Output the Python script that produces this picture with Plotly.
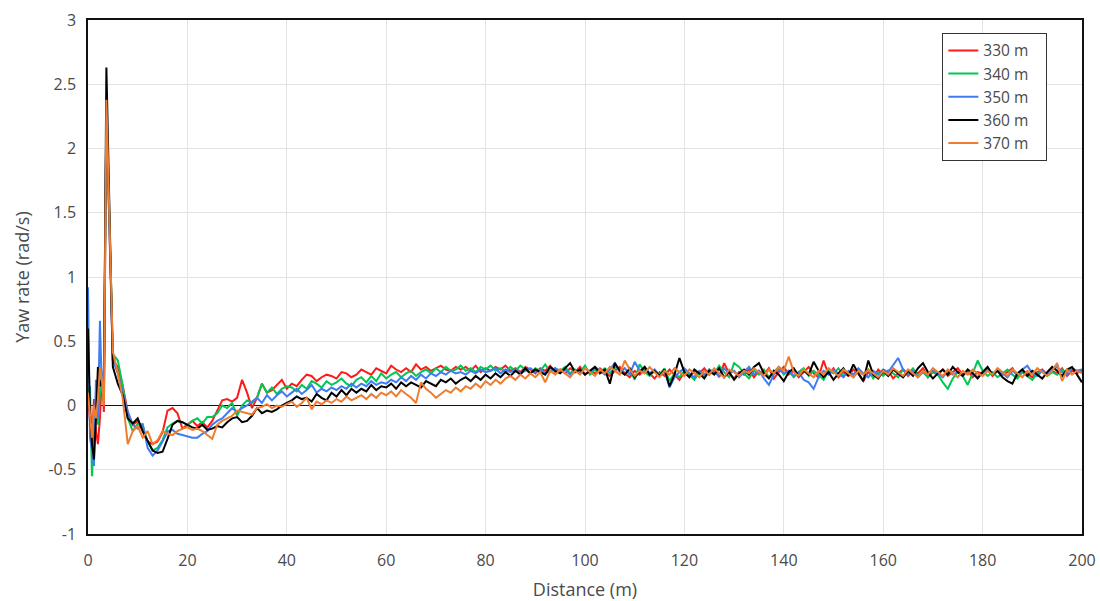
import plotly.graph_objects as go

# Sampling positions along the track (m): finer steps through the launch transient
distance = [0, 0.4, 0.8, 1.2, 1.6, 2.0, 2.4, 2.8, 3.2, 3.7] + list(range(5, 201))

series_names = ["330 m", "340 m", "350 m", "360 m", "370 m"]

yaw_330 = [
    0.05, -0.15, -0.30, 0.05, -0.20, -0.30, -0.10, 0.25, -0.05, 2.30,
    0.35, 0.30, 0.15, -0.05, -0.15, -0.12, -0.20, -0.28, -0.30, -0.28,
    -0.21, -0.04, -0.02, -0.06, -0.18, -0.15, -0.12, -0.16, -0.13, -0.17,
    -0.12, -0.04, 0.04, 0.05, 0.03, 0.06, 0.20, 0.10, -0.02, 0.06,
    0.17, 0.10, 0.12, 0.16, 0.20, 0.13, 0.17, 0.15, 0.20, 0.24,
    0.23, 0.19, 0.22, 0.24, 0.23, 0.21, 0.26, 0.25, 0.22, 0.24,
    0.28, 0.26, 0.24, 0.29, 0.27, 0.25, 0.31, 0.28, 0.26, 0.29,
    0.26, 0.32, 0.28, 0.30, 0.27, 0.29, 0.31, 0.28, 0.27, 0.30,
    0.28, 0.30, 0.27, 0.31, 0.26, 0.29, 0.27, 0.30, 0.28, 0.31,
    0.27, 0.29, 0.26, 0.30, 0.28, 0.25, 0.29, 0.27, 0.31, 0.26,
    0.28, 0.25, 0.29, 0.26, 0.30, 0.24, 0.27, 0.25, 0.29, 0.26,
    0.23, 0.27, 0.30, 0.25, 0.22, 0.27, 0.24, 0.28, 0.25, 0.21,
    0.26, 0.23, 0.28, 0.24, 0.20, 0.26, 0.22, 0.27, 0.25, 0.29,
    0.24, 0.28, 0.22, 0.33, 0.25, 0.21, 0.26, 0.24, 0.28, 0.22,
    0.27, 0.24, 0.29, 0.21, 0.26, 0.30, 0.24, 0.27, 0.22, 0.26,
    0.30, 0.25, 0.22, 0.35, 0.24, 0.29, 0.22, 0.26, 0.23, 0.28,
    0.25, 0.19, 0.26, 0.22, 0.28, 0.24, 0.27, 0.21, 0.25, 0.28,
    0.23, 0.27, 0.25, 0.29, 0.22, 0.26, 0.24, 0.28, 0.23, 0.26,
    0.29, 0.24, 0.27, 0.22, 0.26, 0.25, 0.28, 0.23, 0.27, 0.24,
    0.26, 0.29, 0.23, 0.27, 0.25, 0.22, 0.26, 0.28, 0.24, 0.27,
    0.25, 0.29, 0.23, 0.27, 0.25, 0.28,
]

yaw_340 = [
    0.10, 0.15, -0.55, -0.20, 0.05, -0.15, 0.10, 0.20, 0.05, 2.35,
    0.40, 0.35, 0.15, -0.10, -0.20, -0.14, -0.16, -0.28, -0.35, -0.33,
    -0.27, -0.17, -0.14, -0.12, -0.13, -0.15, -0.12, -0.10, -0.14, -0.09,
    -0.09, -0.06, 0.00, -0.02, 0.02, -0.08, 0.00, 0.04, 0.02, 0.06,
    0.17, 0.10, 0.14, 0.09, 0.13, 0.15, 0.14, 0.11, 0.16, 0.13,
    0.19, 0.17, 0.14, 0.19, 0.16, 0.18, 0.21, 0.17, 0.15, 0.20,
    0.22, 0.18, 0.23, 0.19, 0.25, 0.21, 0.24, 0.26, 0.22, 0.25,
    0.27, 0.23, 0.26, 0.28, 0.25, 0.29, 0.26, 0.30, 0.27, 0.28,
    0.31, 0.27, 0.29, 0.26, 0.30, 0.28, 0.31, 0.27, 0.29, 0.26,
    0.30, 0.27, 0.31, 0.28, 0.25, 0.29, 0.27, 0.32, 0.26, 0.29,
    0.27, 0.30, 0.25, 0.28, 0.26, 0.31, 0.24, 0.28, 0.26, 0.29,
    0.25, 0.30, 0.27, 0.24, 0.28, 0.20, 0.32, 0.26, 0.23, 0.27,
    0.24, 0.29, 0.19, 0.25, 0.22, 0.27, 0.24, 0.20, 0.26, 0.23,
    0.28, 0.25, 0.31, 0.26, 0.22, 0.33, 0.30, 0.25, 0.21, 0.27,
    0.24, 0.28, 0.22, 0.26, 0.30, 0.24, 0.27, 0.22, 0.26, 0.29,
    0.23, 0.27, 0.24, 0.20, 0.27, 0.25, 0.29, 0.23, 0.26, 0.22,
    0.27, 0.24, 0.28, 0.21, 0.26, 0.23, 0.27, 0.25, 0.22, 0.28,
    0.25, 0.29, 0.23, 0.26, 0.22, 0.27, 0.24, 0.18, 0.13, 0.21,
    0.26, 0.23, 0.16, 0.25, 0.35, 0.27, 0.23, 0.26, 0.22, 0.25,
    0.28, 0.24, 0.21, 0.26, 0.23, 0.20, 0.25, 0.27, 0.23, 0.26,
    0.24, 0.28, 0.25, 0.29, 0.27, 0.26,
]

yaw_350 = [
    0.92, -0.25, -0.35, -0.47, 0.20, -0.10, 0.66, 0.10, 0.30, 2.30,
    0.35, 0.25, 0.10, -0.05, -0.15, -0.18, -0.14, -0.33, -0.39, -0.35,
    -0.28, -0.20, -0.19, -0.22, -0.23, -0.24, -0.25, -0.25, -0.22, -0.20,
    -0.15, -0.12, -0.10, -0.06, -0.02, -0.05, -0.02, 0.00, 0.03, 0.06,
    0.02, 0.08, 0.04, 0.08, 0.11, 0.07, 0.10, 0.13, 0.09, 0.12,
    0.16, 0.10, 0.13, 0.11, 0.14, 0.12, 0.15, 0.13, 0.17, 0.14,
    0.17, 0.15, 0.19, 0.16, 0.18, 0.17, 0.20, 0.18, 0.22, 0.19,
    0.23, 0.20, 0.24, 0.21, 0.25, 0.23, 0.26, 0.24, 0.27, 0.25,
    0.26, 0.24, 0.27, 0.25, 0.28, 0.26, 0.27, 0.29, 0.25, 0.28,
    0.26, 0.28, 0.25, 0.27, 0.29, 0.26, 0.28, 0.25, 0.27, 0.29,
    0.26, 0.28, 0.24, 0.27, 0.25, 0.29, 0.26, 0.30, 0.27, 0.24,
    0.28, 0.33, 0.26, 0.29, 0.24, 0.34, 0.27, 0.30, 0.25, 0.28,
    0.23, 0.27, 0.14, 0.22, 0.26, 0.29, 0.25, 0.22, 0.27, 0.24,
    0.28, 0.26, 0.23, 0.29, 0.25, 0.27, 0.22, 0.26, 0.30, 0.24,
    0.27, 0.21, 0.16, 0.24, 0.28, 0.25, 0.27, 0.23, 0.26, 0.20,
    0.18, 0.13, 0.22, 0.27, 0.24, 0.28, 0.25, 0.22, 0.27, 0.24,
    0.29, 0.25, 0.22, 0.27, 0.24, 0.28, 0.26, 0.32, 0.37, 0.28,
    0.24, 0.27, 0.22, 0.26, 0.24, 0.28, 0.25, 0.22, 0.27, 0.24,
    0.26, 0.23, 0.27, 0.25, 0.22, 0.26, 0.28, 0.24, 0.27, 0.25,
    0.22, 0.27, 0.24, 0.28, 0.31, 0.25, 0.23, 0.27, 0.24, 0.28,
    0.30, 0.26, 0.24, 0.29, 0.27, 0.28,
]

yaw_360 = [
    0.60, -0.05, -0.30, -0.42, -0.10, 0.30, 0.15, 0.20, 0.10, 2.63,
    0.30, 0.17, 0.08, -0.10, -0.14, -0.10, -0.20, -0.28, -0.35, -0.37,
    -0.36, -0.26, -0.15, -0.12, -0.13, -0.15, -0.17, -0.18, -0.15, -0.19,
    -0.18, -0.16, -0.17, -0.13, -0.10, -0.09, -0.13, -0.12, -0.08, -0.02,
    -0.06, -0.04, -0.05, -0.03, 0.00, 0.02, 0.04, 0.07, 0.05, 0.06,
    0.03, 0.09, 0.06, 0.04, 0.10, 0.07, 0.12, 0.08, 0.13, 0.10,
    0.13, 0.11, 0.16, 0.12, 0.15, 0.14, 0.17, 0.13, 0.18, 0.15,
    0.18, 0.16, 0.14, 0.19, 0.17, 0.15, 0.20, 0.18, 0.21, 0.17,
    0.20, 0.22, 0.19, 0.23, 0.20, 0.24, 0.21, 0.25, 0.22, 0.26,
    0.23, 0.27, 0.24, 0.29, 0.25, 0.28, 0.26, 0.24, 0.30, 0.27,
    0.25, 0.29, 0.33, 0.26, 0.28, 0.24, 0.27, 0.30, 0.25, 0.28,
    0.17, 0.33, 0.27, 0.24, 0.29, 0.22, 0.26, 0.30, 0.24, 0.27,
    0.23, 0.28, 0.15, 0.24, 0.37, 0.26, 0.22, 0.28, 0.25, 0.21,
    0.27, 0.24, 0.29, 0.22, 0.26, 0.20, 0.25, 0.28, 0.24, 0.30,
    0.33, 0.25, 0.21, 0.27, 0.24, 0.19, 0.26, 0.29, 0.23, 0.27,
    0.24, 0.34, 0.27, 0.22, 0.26, 0.20, 0.25, 0.29, 0.23, 0.32,
    0.25, 0.19, 0.35, 0.24, 0.21, 0.27, 0.23, 0.28, 0.25, 0.22,
    0.27, 0.23, 0.29, 0.33, 0.26, 0.21, 0.25, 0.28, 0.24, 0.30,
    0.26, 0.23, 0.28, 0.25, 0.21, 0.26, 0.30, 0.24, 0.27, 0.22,
    0.19, 0.17, 0.25, 0.28, 0.23, 0.27, 0.24, 0.21, 0.26, 0.30,
    0.27, 0.23, 0.28, 0.30, 0.24, 0.18,
]

yaw_370 = [
    0.10, -0.05, -0.25, 0.00, -0.10, 0.05, 0.30, 0.20, 0.00, 2.38,
    0.42, 0.25, 0.05, -0.30, -0.20, -0.16, -0.25, -0.20, -0.30, -0.27,
    -0.20, -0.22, -0.23, -0.20, -0.18, -0.17, -0.19, -0.18, -0.20, -0.23,
    -0.26, -0.15, -0.12, -0.10, -0.08, -0.04, -0.05, -0.06, -0.07, -0.02,
    -0.01, 0.01, -0.02, 0.00, -0.01, 0.01, 0.03, -0.01, 0.02, 0.06,
    -0.03, 0.03, 0.01, 0.04, 0.02, 0.05, 0.03, 0.07, 0.04, 0.06,
    0.08, 0.05, 0.09, 0.06, 0.10, 0.08, 0.11, 0.07, 0.12, 0.09,
    0.06, 0.02, 0.18, 0.13, 0.10, 0.06, 0.09, 0.12, 0.10, 0.14,
    0.11, 0.15, 0.13, 0.17, 0.14, 0.19, 0.16, 0.20, 0.17, 0.21,
    0.23, 0.20, 0.24, 0.21, 0.25, 0.22, 0.26, 0.18, 0.27, 0.24,
    0.28, 0.25, 0.22, 0.27, 0.24, 0.29, 0.26, 0.23, 0.28, 0.25,
    0.30, 0.27, 0.24, 0.35, 0.28, 0.23, 0.27, 0.25, 0.30, 0.26,
    0.22, 0.27, 0.24, 0.29, 0.26, 0.23, 0.28, 0.25, 0.22, 0.27,
    0.24, 0.29, 0.25, 0.22, 0.28, 0.26, 0.23, 0.27, 0.25, 0.29,
    0.26, 0.23, 0.28, 0.25, 0.30, 0.27, 0.38, 0.26, 0.23, 0.28,
    0.25, 0.22, 0.27, 0.24, 0.29, 0.26, 0.23, 0.28, 0.25, 0.22,
    0.27, 0.24, 0.28, 0.25, 0.22, 0.27, 0.24, 0.29, 0.26, 0.23,
    0.28, 0.25, 0.22, 0.27, 0.24, 0.29, 0.26, 0.23, 0.28, 0.25,
    0.22, 0.27, 0.24, 0.28, 0.25, 0.23, 0.27, 0.24, 0.29, 0.26,
    0.23, 0.28, 0.25, 0.22, 0.27, 0.24, 0.29, 0.26, 0.23, 0.27,
    0.33, 0.19, 0.28, 0.24, 0.27, 0.25,
]

series_values = [yaw_330, yaw_340, yaw_350, yaw_360, yaw_370]
series_colors = ["#ff1a1a", "#00c853", "#3d7cf5", "#000000", "#ee7d31"]

x_ticks = [0, 20, 40, 60, 80, 100, 120, 140, 160, 180, 200]
y_ticks = [-1, -0.5, 0, 0.5, 1, 1.5, 2, 2.5, 3]
y_tick_labels = ["-1", "-0.5", "0", "0.5", "1", "1.5", "2", "2.5", "3"]

fig = go.Figure()
for name, vals, color in zip(series_names, series_values, series_colors):
    fig.add_trace(go.Scatter(
        x=distance, y=vals, mode="lines",
        # trailing non-breaking spaces give the legend box some right padding
        name=name + "\u00a0\u00a0\u00a0",
        line=dict(color=color, width=2),
    ))

axis_font = dict(family="Open Sans", size=16, color="#4a4a4a")
title_font = dict(family="Open Sans", size=18, color="#4a4a4a")

fig.update_layout(
    width=1100, height=601,
    margin=dict(l=88, r=18, t=20, b=67),
    paper_bgcolor="white", plot_bgcolor="white",
    font=dict(family="Open Sans", color="#4a4a4a"),
    showlegend=True,
    legend=dict(
        x=0.8595, y=0.975, xanchor="left", yanchor="top",
        bgcolor="white", bordercolor="#333333", borderwidth=1,
        font=dict(family="Open Sans", size=15.5, color="#4a4a4a"),
        tracegroupgap=0, itemwidth=30,
    ),
)

fig.update_xaxes(
    range=[0, 200], tickvals=x_ticks, automargin=False,
    showgrid=True, gridcolor="#e3e3e3", gridwidth=1,
    showline=True, linecolor="#111111", linewidth=1.5, mirror=True,
    zeroline=False, ticks="", ticklabelstandoff=11,
    tickfont=axis_font,
    title=dict(text="Distance (m)", font=title_font, standoff=14),
)

fig.update_yaxes(
    range=[-1, 3], tickvals=y_ticks, ticktext=y_tick_labels, automargin=False,
    showgrid=True, gridcolor="#e3e3e3", gridwidth=1,
    showline=True, linecolor="#111111", linewidth=1.5, mirror=True,
    zeroline=True, zerolinecolor="#111111", zerolinewidth=1,
    ticks="", ticklabelstandoff=7,
    tickfont=axis_font,
    title=dict(text="Yaw rate (rad/s)", font=title_font, standoff=14),
)

fig.write_html("out.html")
